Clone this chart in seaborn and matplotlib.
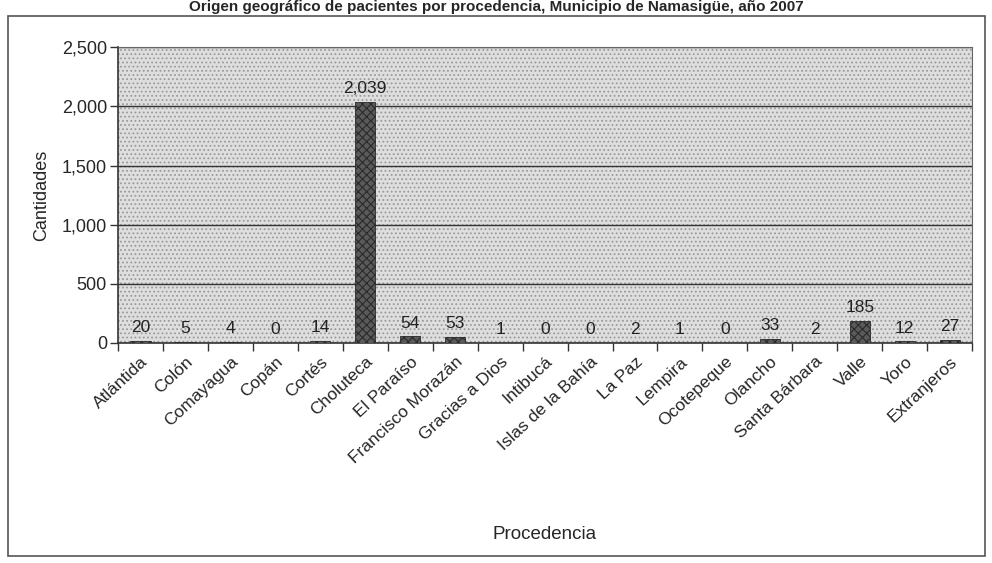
import matplotlib
matplotlib.use('Agg')
import matplotlib.pyplot as plt
import seaborn as sns
import pandas as pd
import numpy as np
from matplotlib.patches import Rectangle
from matplotlib.ticker import FuncFormatter

# datos
departamentos = ['Atlántida', 'Colón', 'Comayagua', 'Copán', 'Cortés', 'Choluteca',
                 'El Paraíso', 'Francisco Morazán', 'Gracias a Dios', 'Intibucá',
                 'Islas de la Bahía', 'La Paz', 'Lempira', 'Ocotepeque', 'Olancho',
                 'Santa Bárbara', 'Valle', 'Yoro', 'Extranjeros']
cantidades = [20, 5, 4, 0, 14, 2039, 54, 53, 1, 0, 0, 2, 1, 0, 33, 2, 185, 12, 27]
y_ticks = [0, 500, 1000, 1500, 2000, 2500]

df = pd.DataFrame({'Procedencia': departamentos, 'Cantidades': cantidades})

sns.set_style('white')
plt.rcParams['font.family'] = ['Liberation Sans', 'DejaVu Sans']
plt.rcParams['hatch.color'] = '#222222'
plt.rcParams['hatch.linewidth'] = 0.8

fig = plt.figure(figsize=(9.92, 5.63), dpi=100)
ax = fig.add_axes([0.119, 0.391, 0.861, 0.525])

# fondo punteado
ax.set_facecolor('#dedede')
ax.add_patch(Rectangle((0, 0), 1, 1, transform=ax.transAxes, facecolor='none',
                       edgecolor='#9a9a9a', hatch='....', linewidth=0, zorder=0))

sns.barplot(data=df, x='Procedencia', y='Cantidades', color='#5a5a5a',
            width=0.45, ax=ax, zorder=3, edgecolor='#2a2a2a', linewidth=0.6)
for p in ax.patches:
    if p.get_width() < 1:
        p.set_hatch('xxxx')

# etiquetas de valores
for i, v in enumerate(cantidades):
    ax.text(i, v + 50, f'{v:,}', ha='center', va='bottom', fontsize=12.5, color='#222222', zorder=4)

ax.set_ylim(0, 2500)
ax.set_xlim(-0.5, len(departamentos) - 0.5)
ax.set_yticks(y_ticks)
ax.yaxis.set_major_formatter(FuncFormatter(lambda x, pos: f'{int(x):,}'))
ax.yaxis.grid(True, color='#333333', linewidth=1.0, zorder=1)
ax.set_axisbelow(True)

ax.set_xticks(range(len(departamentos)))
ax.set_xticklabels(departamentos, rotation=43, ha='right', rotation_mode='anchor', fontsize=12.5)
ax.set_xticks(np.arange(-0.5, len(departamentos), 1), minor=True)
ax.tick_params(axis='x', which='major', length=0, pad=8)
ax.tick_params(axis='x', which='minor', length=6, width=1, color='#333333', direction='out', bottom=True)
ax.tick_params(axis='y', length=6, width=1, color='#333333', direction='out', left=True,
               labelsize=13, pad=2)

for s in ['left', 'bottom']:
    ax.spines[s].set_color('#333333')
    ax.spines[s].set_linewidth(1.2)
for s in ['top', 'right']:
    ax.spines[s].set_color('#666666')
    ax.spines[s].set_linewidth(0.8)

ax.set_xlabel('')
ax.set_ylabel('Cantidades', fontsize=13, labelpad=8)
fig.text(0.549, 0.05, 'Procedencia', ha='center', va='center', fontsize=13.5)

# marco exterior
fig.patches.append(Rectangle((0.008, 0.013), 0.985, 0.958, transform=fig.transFigure,
                             fill=False, edgecolor='#555555', linewidth=1.2))

# título
fig.text(0.5, 0.976, 'Origen geográfico de pacientes por procedencia, Municipio de Namasigüe, año 2007',
         ha='center', va='bottom', fontsize=11, fontweight='bold')

fig.savefig('out.png', dpi=100)
